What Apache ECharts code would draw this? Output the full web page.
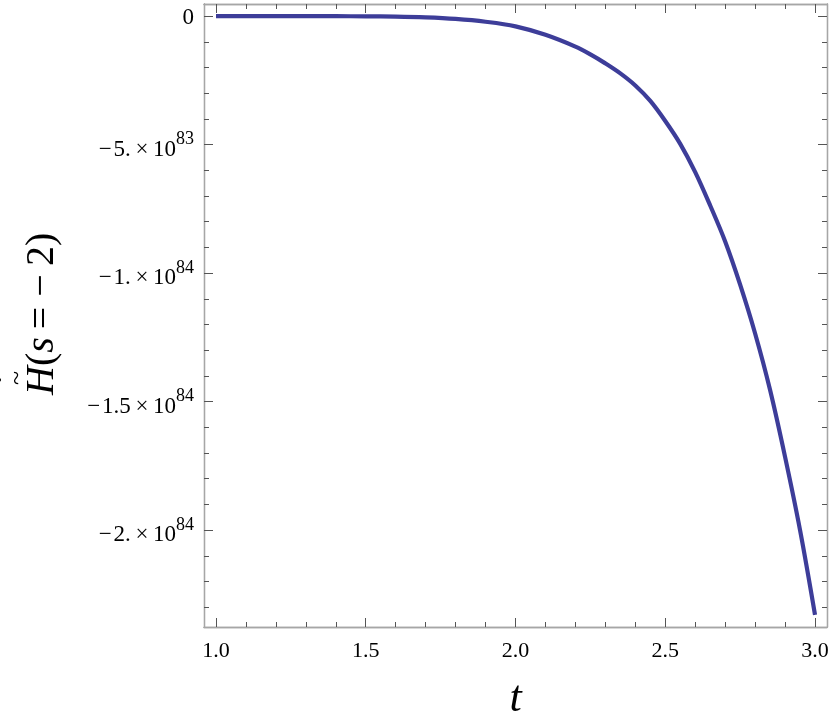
<!DOCTYPE html>
<html>
<head>
<meta charset="utf-8">
<script src="https://cdn.jsdelivr.net/npm/echarts@6/dist/echarts.min.js"></script>
<style>
html,body{margin:0;padding:0;background:#fff}
#main{width:830px;height:717px}
</style>
</head>
<body>
<div id="main"></div>
<script>
// t values and H-dot-tilde(s=-2) (H in units of 1e84)
var tValues = [1.0, 1.2, 1.4, 1.5, 1.6, 1.7, 1.8, 1.9, 2.0, 2.1, 2.2, 2.25, 2.3, 2.35, 2.4, 2.45, 2.5, 2.55, 2.6, 2.65, 2.7, 2.75, 2.8, 2.85, 2.9, 2.95, 3.0]
var hValues = [0, 0, -0.0005, -0.001, -0.002, -0.005, -0.011, -0.022, -0.040, -0.073, -0.119, -0.149, -0.184, -0.223, -0.270, -0.330, -0.408, -0.497, -0.607, -0.737, -0.877, -1.045, -1.235, -1.455, -1.715, -2.000, -2.330]
var hExp = 84

var xMajor = [1.0, 1.5, 2.0, 2.5, 3.0]
var xMinor = [1.0, 1.1, 1.2, 1.3, 1.4, 1.5, 1.6, 1.7, 1.8, 1.9, 2.0, 2.1, 2.2, 2.3, 2.4, 2.5, 2.6, 2.7, 2.8, 2.9, 3.0]
var yMajor = [0, -0.5, -1.0, -1.5, -2.0]
var yMinor = [0, -0.1, -0.2, -0.3, -0.4, -0.5, -0.6, -0.7, -0.8, -0.9, -1.0, -1.1, -1.2, -1.3, -1.4, -1.5, -1.6, -1.7, -1.8, -1.9, -2.0, -2.1, -2.2, -2.3]

var serif = 'Liberation Serif'
var frameColor = '#a6a6a6'
var tickColor = '#555'

// mathematica style: -5.x10^83, -1.5x10^84
function yLabel(v) {
  if (Math.abs(v) < 1e-9) return '{z|0}'
  var e = hExp + Math.floor(Math.log10(Math.abs(v)) + 1e-9)
  var m = Math.round(v * Math.pow(10, hExp - e) * 10) / 10
  var ms = (m % 1 === 0) ? Math.abs(m) + '.' : String(Math.abs(m))
  return '{m|\u2212\u200a' + ms + '\u2009\u00d7\u200910}{e|' + e + '}'
}

function axis(dim, pos, ticks, len, labels) {
  var ax = {
    type: 'value',
    position: pos,
    min: dim == 'x' ? 0.96 : -2.377,
    max: dim == 'x' ? 3.04 : 0.047,
    axisLine: {show: true, onZero: false, lineStyle: {color: frameColor, width: 1.3}},
    axisTick: {show: true, inside: true, length: len, customValues: ticks, lineStyle: {color: tickColor, width: 1}},
    axisLabel: {show: false},
    splitLine: {show: false}
  }
  if (labels) {
    if (dim == 'x') {
      ax.axisLabel = {
        show: true, customValues: ticks, margin: 13,
        fontFamily: serif, fontSize: 22, color: '#000',
        formatter: function (v) { return v.toFixed(1) }
      }
    } else {
      ax.axisLabel = {
        show: true, customValues: ticks, margin: 10,
        formatter: yLabel,
        rich: {
          z: {fontFamily: serif, fontSize: 23, color: '#000', lineHeight: 23, padding: [3, 0, 0, 0]},
          m: {fontFamily: serif, fontSize: 23, color: '#000', lineHeight: 23, verticalAlign: 'middle', padding: [10, 0, 0, 0]},
          e: {fontFamily: serif, fontSize: 18, color: '#000', lineHeight: 18, verticalAlign: 'middle', padding: [0, 0, 10, 0]}
        }
      }
    }
  }
  return ax
}

var xMain = axis('x', 'bottom', xMajor, 9, true)
xMain.name = 't'
xMain.nameLocation = 'middle'
xMain.nameGap = 50
xMain.nameTextStyle = {fontFamily: serif, fontStyle: 'italic', fontSize: 44, color: '#000'}

var points = tValues.map(function (t, i) { return [t, hValues[i]] })

var chart = echarts.init(document.getElementById('main'), null, {renderer: 'canvas'})
var option = {
  animation: false,
  backgroundColor: '#fff',
  grid: {left: 204, right: 3, top: 4, bottom: 90, containLabel: false, outerBoundsMode: 'none'},
  xAxis: [
    xMain,
    axis('x', 'bottom', xMinor, 5, false),
    axis('x', 'top', xMajor, 9, false),
    axis('x', 'top', xMinor, 5, false)
  ],
  yAxis: [
    axis('y', 'left', yMajor, 9, true),
    axis('y', 'left', yMinor, 5, false),
    axis('y', 'right', yMajor, 9, false),
    axis('y', 'right', yMinor, 5, false)
  ],
  // rotated y title: H with tilde and dot above
  graphic: [{
    type: 'group', x: 42, y: 313, rotation: Math.PI / 2,
    children: [
      {type: 'text', x: -82, y: 0, style: {
        text: '{i|H}({i|s}\u2009=\u0020\u2212\u20092)', align: 'left', verticalAlign: 'middle',
        fontFamily: serif, fontSize: 40, fill: '#000',
        rich: {i: {fontFamily: serif, fontStyle: 'italic', fontSize: 40, fill: '#000'}}
      }},
      {type: 'text', x: -65, y: -25, style: {text: '~', align: 'center', verticalAlign: 'middle', fontFamily: serif, fontSize: 26, fill: '#000'}},
      {type: 'text', x: -67, y: -40, style: {text: '\u00b7', align: 'center', verticalAlign: 'middle', fontFamily: serif, fontSize: 32, fill: '#000'}}
    ]
  }],
  series: [{
    type: 'line',
    xAxisIndex: 0,
    yAxisIndex: 0,
    data: points,
    showSymbol: false,
    smooth: 0.35,
    lineStyle: {color: '#3d3d99', width: 4.2},
    itemStyle: {color: '#3d3d99'}
  }]
}
chart.setOption(option)
</script>
</body>
</html>
